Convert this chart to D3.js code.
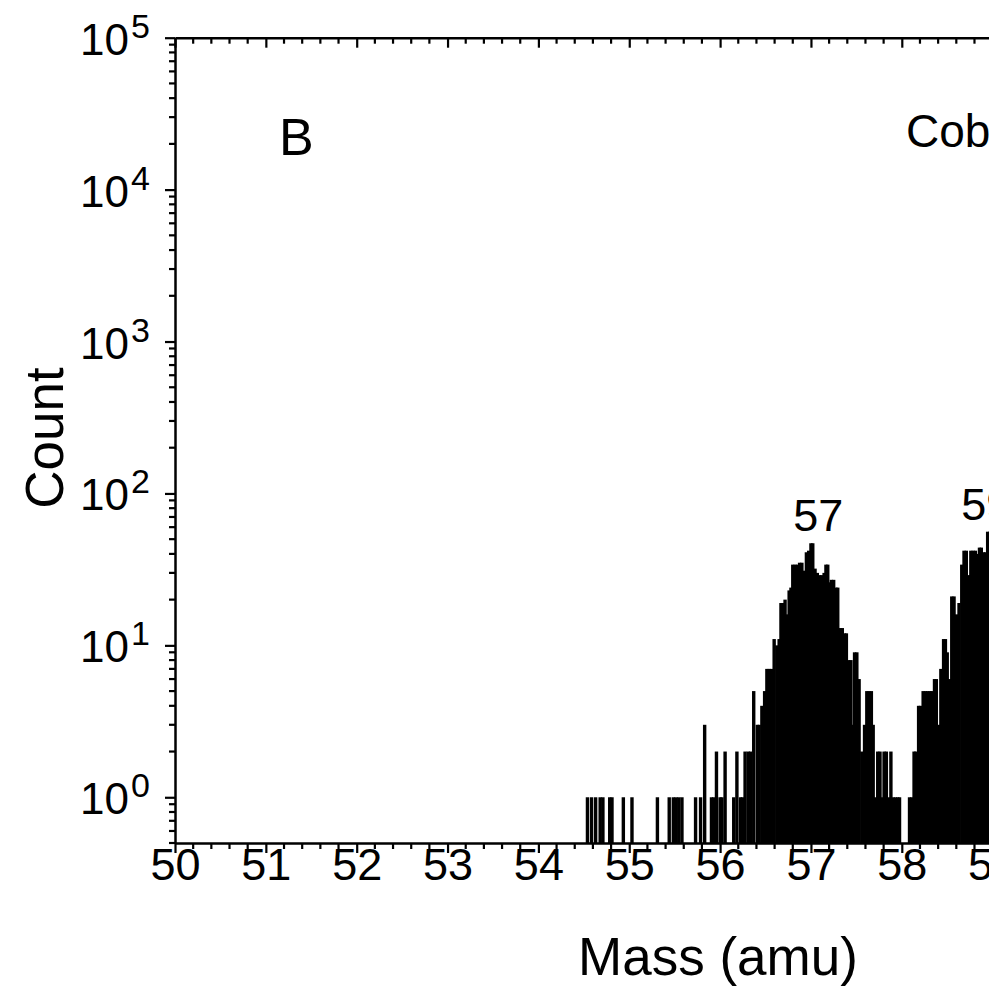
<!DOCTYPE html>
<html>
<head>
<meta charset="utf-8">
<script src="https://cdn.jsdelivr.net/npm/d3@7"></script>
<style>
  html, body { margin: 0; padding: 0; background: #fff; overflow: hidden; }
  svg { display: block; font-family: "Liberation Sans", Arial, sans-serif; }
</style>
</head>
<body>
<svg id="chart" width="989" height="993"></svg>
<script>
// ---- data ----
const masses = [
  54.54, 54.585, 54.63, 54.68, 54.71, 54.785, 54.81, 54.935, 55.03,
  55.31, 55.44, 55.485, 55.515, 55.545, 55.58,
  55.73, 55.785, 55.83, 55.905, 55.93, 55.96, 56.0, 56.02, 56.055,
  56.15, 56.185, 56.225, 56.245, 56.275, 56.31, 56.335, 56.37, 56.41, 56.43,
  56.46, 56.49, 56.515, 56.54, 56.565, 56.595, 56.625, 56.65, 56.67, 56.695,
  56.715, 56.74, 56.76, 56.78, 56.80, 56.825, 56.85, 56.875, 56.90, 56.925,
  56.95, 56.975, 57.0, 57.02, 57.045, 57.07, 57.095, 57.12, 57.145, 57.165,
  57.185, 57.205, 57.225, 57.25, 57.275, 57.295, 57.32, 57.345, 57.37, 57.39,
  57.415, 57.44, 57.46, 57.48, 57.505, 57.53, 57.56, 57.59, 57.615, 57.64,
  57.665, 57.685, 57.71, 57.735, 57.76, 57.785, 57.805, 57.83, 57.855, 57.88,
  57.905, 57.93, 57.955, 57.975,
  58.085, 58.11, 58.135, 58.155, 58.185, 58.205, 58.235, 58.26, 58.285, 58.31,
  58.33, 58.36, 58.38, 58.405, 58.43, 58.46, 58.48, 58.50, 58.525, 58.55,
  58.575, 58.60, 58.63, 58.66, 58.685, 58.71, 58.735, 58.76, 58.785, 58.81,
  58.83, 58.855, 58.875, 58.90, 58.92, 58.945, 58.97
];
const counts = [
  1, 1, 1, 1, 1, 1, 1, 1, 1,
  1, 1, 1, 1, 1, 1,
  1, 1, 3, 1, 1, 2, 1, 1, 2,
  1, 2, 1, 1, 2, 2, 2, 5, 3, 3,
  4, 5, 7, 7, 7, 11, 10, 11, 19, 19,
  20, 16, 23, 24, 34, 34, 34, 35, 35, 31,
  41, 42, 47, 47, 32, 30, 29, 29, 30, 34,
  34, 26, 27, 27, 24, 24, 13, 13, 12, 12,
  8, 8, 3, 9, 9, 6, 2, 3, 5, 5,
  5, 3, 1, 2, 2, 1, 2, 2, 1, 2,
  1, 1, 1, 1,
  1, 1, 2, 2, 4, 4, 5, 5, 5, 5,
  5, 6, 6, 3, 7, 11, 11, 9, 6, 21,
  21, 16, 19, 34, 42, 42, 29, 42, 42, 42,
  40, 44, 44, 41, 41, 56, 56
];
const xTicks = [50, 51, 52, 53, 54, 55, 56, 57, 58, 59, 60];
const yTicks = [1, 10, 100, 1000, 10000, 100000];
const yExponents = ["0", "1", "2", "3", "4", "5"];
const peakLabels = ["57", "59"];
const peakMasses = [57.08, 58.93];
const xTitle = "Mass (amu)";
const yTitle = "Count";
const panelLabel = "B";
const elementLabel = "Cobalt";

// ---- layout ----
const svg = d3.select("#chart");
const plotLeft = 175, plotTop = 37.7, plotBottom = 843;
const pxPerAmu = 90.85;
const x = d3.scaleLinear().domain([50, 60]).range([plotLeft, plotLeft + 10 * pxPerAmu]);
const y = d3.scaleLog().domain([0.5, 100000]).range([plotBottom, plotTop]);

// bars
svg.append("g").selectAll("rect")
  .data(masses.map((m, i) => ({ m, c: counts[i] })))
  .join("rect")
  .attr("x", d => x(d.m) - 1.7)
  .attr("width", 3.4)
  .attr("y", d => y(d.c))
  .attr("height", d => y(0.5) - y(d.c))
  .attr("fill", "#000");

// minor tick values
const xMinor = d3.range(0, 51).map(i => 50 + i * 0.2).filter(v => Math.abs(v - Math.round(v)) > 1e-6);
const yMinor = [];
[0.1, 1, 10, 100, 1000, 10000].forEach(dec => {
  for (let k = 2; k <= 9; k++) {
    const v = dec * k;
    if (v >= 0.5 && v <= 100000) yMinor.push(v);
  }
});

const axisStyle = g => {
  g.select(".domain").attr("stroke", "#000").attr("stroke-width", 2.5);
  g.selectAll(".tick line").attr("stroke", "#000").attr("stroke-width", 2.2);
};

// bottom axis
const gx = svg.append("g").attr("transform", `translate(0,${plotBottom})`);
gx.call(d3.axisBottom(x).tickValues(xTicks).tickSize(10).tickSizeOuter(0).tickFormat(d3.format("d")))
  .call(axisStyle);
gx.selectAll(".tick text").attr("font-size", 45).attr("fill", "#000").attr("dy", null).attr("y", 37);
gx.append("g").selectAll("line").data(xMinor).join("line")
  .attr("x1", d => x(d)).attr("x2", d => x(d)).attr("y1", 0).attr("y2", 6)
  .attr("stroke", "#000").attr("stroke-width", 2.2);

// top axis (ticks inward)
const gt = svg.append("g").attr("transform", `translate(0,${plotTop})`);
gt.call(d3.axisTop(x).tickValues(xTicks).tickSize(-10).tickSizeOuter(0).tickFormat(""))
  .call(axisStyle);
gt.append("g").selectAll("line").data(xMinor).join("line")
  .attr("x1", d => x(d)).attr("x2", d => x(d)).attr("y1", 0).attr("y2", 6)
  .attr("stroke", "#000").attr("stroke-width", 2.2);

// left axis
const gy = svg.append("g").attr("transform", `translate(${plotLeft},0)`);
gy.call(d3.axisLeft(y).tickValues(yTicks).tickSize(10).tickSizeOuter(0).tickFormat(""))
  .call(axisStyle);
gy.append("g").selectAll("line").data(yMinor).join("line")
  .attr("x1", -6).attr("x2", 0).attr("y1", d => y(d)).attr("y2", d => y(d))
  .attr("stroke", "#000").attr("stroke-width", 2.2);

// y tick labels with superscripts
const yl = svg.append("g");
yTicks.forEach((v, i) => {
  const ty = y(v);
  yl.append("text").attr("x", 129).attr("y", ty + 17)
    .attr("text-anchor", "end").attr("font-size", 44).text("10");
  yl.append("text").attr("x", 131).attr("y", ty)
    .attr("text-anchor", "start").attr("font-size", 34).text(yExponents[i]);
});

// axis titles
svg.append("text").attr("x", 718).attr("y", 975).attr("text-anchor", "middle")
  .attr("font-size", 53).text(xTitle);
svg.append("text").attr("transform", "translate(63,438) rotate(-90)")
  .attr("text-anchor", "middle").attr("font-size", 53).text(yTitle);

// annotations
svg.append("text").attr("x", 279).attr("y", 155).attr("font-size", 52).text(panelLabel);
svg.append("text").attr("x", 906).attr("y", 147).attr("font-size", 46).text(elementLabel);
svg.append("text").attr("x", x(peakMasses[0])).attr("y", 531).attr("text-anchor", "middle")
  .attr("font-size", 45).text(peakLabels[0]);
svg.append("text").attr("x", x(peakMasses[1])).attr("y", 520).attr("text-anchor", "middle")
  .attr("font-size", 45).text(peakLabels[1]);
</script>
</body>
</html>
